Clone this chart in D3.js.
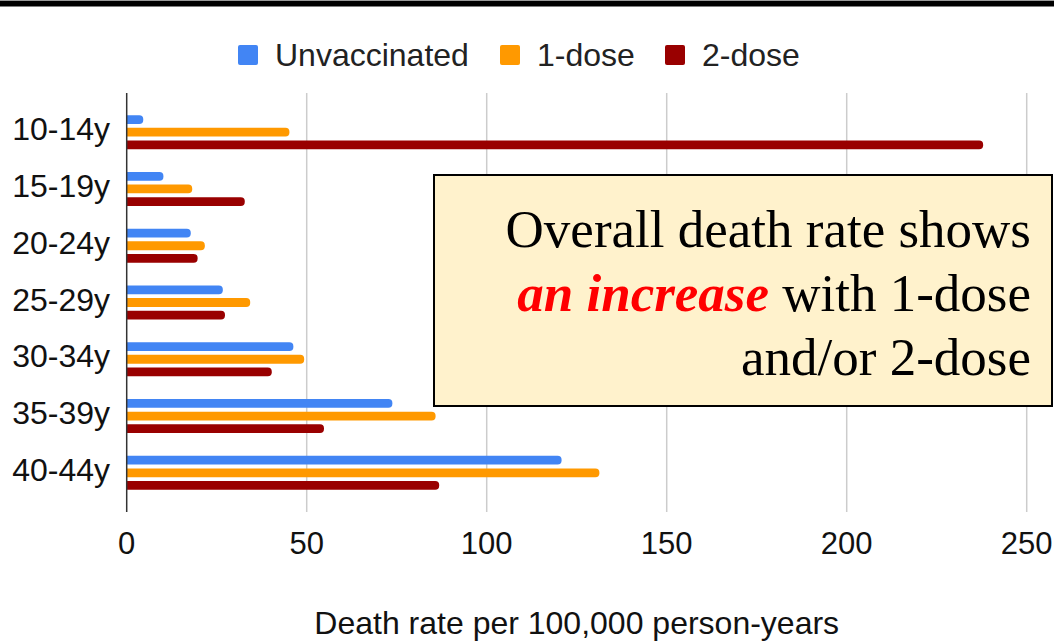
<!DOCTYPE html>
<html>
<head>
<meta charset="utf-8">
<script src="https://cdn.jsdelivr.net/npm/d3@7"></script>
<style>
    body { margin: 0; background: #fff; }
    svg { display: block; }
</style>
</head>
<body>
<svg id="board" width="1054" height="644"></svg>
<script>
// Age groups shown on the vertical axis
let ageGroups = ['10-14y', '15-19y', '20-24y', '25-29y', '30-34y', '35-39y', '40-44y']

// Series names and their colours
let seriesNames = ['Unvaccinated', '1-dose', '2-dose']
let seriesColors = ['#4285f4', '#ff9900', '#990000']

// Death rate per 100,000 person-years
let unvaccinated = [4.6, 10.2, 17.8, 26.7, 46.3, 73.8, 120.8]
let oneDose = [45.2, 18.2, 21.7, 34.3, 49.3, 85.8, 131.3]
let twoDose = [237.9, 32.8, 19.7, 27.3, 40.3, 54.8, 86.8]

// Tick values for the bottom axis
let xTicks = [0, 50, 100, 150, 200, 250]

let board = d3.select('#board')
let sansFont = '"Liberation Sans", Arial, sans-serif'

// Plot area
let plotLeft = 126.7
let plotRight = 1026.7
let plotTop = 93
let plotBottom = 512

let xScale = d3.scaleLinear().domain([0, 250]).range([plotLeft, plotRight])

let yScale = d3.scaleBand()
    .domain(ageGroups)
    .range([plotTop, plotBottom])
    .paddingInner(0.4)
    .paddingOuter(0.39)

let innerScale = d3.scaleBand()
    .domain(seriesNames)
    .range([0, yScale.bandwidth()])
    .paddingInner(0.3)

let seriesValues = [unvaccinated, oneDose, twoDose]

// Build the rows that the bars are drawn from
let rows = []
ageGroups.forEach((group, i) => {
    seriesNames.forEach((name, s) => {
        rows.push({ group: group, series: name, color: seriesColors[s], value: seriesValues[s][i] })
    })
})

// Top black band
board.append('rect')
    .attr('x', 0).attr('y', 0).attr('width', 1054).attr('height', 1)
    .attr('fill', '#999')
board.append('rect')
    .attr('x', 0).attr('y', 1).attr('width', 1054).attr('height', 5.5)
    .attr('fill', '#000')

// Vertical gridlines
board.selectAll('.grid')
    .data(xTicks.filter((t) => t > 0))
    .enter()
    .append('line')
    .attr('class', 'grid')
    .attr('x1', (t) => xScale(t))
    .attr('x2', (t) => xScale(t))
    .attr('y1', plotTop)
    .attr('y2', plotBottom)
    .attr('stroke', '#cccccc')
    .attr('stroke-width', 1.5)

// Bars with a rounded right end
let barPath = (x0, y, w, h) => {
    let r = Math.min(4, h / 2, w)
    return 'M' + x0 + ',' + y +
        'H' + (x0 + w - r) +
        'A' + r + ',' + r + ' 0 0 1 ' + (x0 + w) + ',' + (y + r) +
        'V' + (y + h - r) +
        'A' + r + ',' + r + ' 0 0 1 ' + (x0 + w - r) + ',' + (y + h) +
        'H' + x0 + 'Z'
}

board.selectAll('.bar')
    .data(rows)
    .enter()
    .append('path')
    .attr('class', 'bar')
    .attr('fill', (d) => d.color)
    .attr('d', (d) => {
        let y = yScale(d.group) + innerScale(d.series)
        return barPath(xScale(0), y, xScale(d.value) - xScale(0), innerScale.bandwidth())
    })

// Vertical axis line
board.append('line')
    .attr('x1', xScale(0)).attr('x2', xScale(0))
    .attr('y1', plotTop).attr('y2', plotBottom)
    .attr('stroke', '#333')
    .attr('stroke-width', 1.5)

// Age group labels
board.selectAll('.ylabel')
    .data(ageGroups)
    .enter()
    .append('text')
    .attr('class', 'ylabel')
    .attr('x', 110)
    .attr('y', (g) => yScale(g) + yScale.bandwidth() / 2 + 8)
    .attr('text-anchor', 'end')
    .attr('font-family', sansFont)
    .attr('font-size', 32)
    .attr('fill', '#111')
    .text((g) => g)

// Bottom tick labels
board.selectAll('.xlabel')
    .data(xTicks)
    .enter()
    .append('text')
    .attr('class', 'xlabel')
    .attr('x', (t) => xScale(t))
    .attr('y', 554)
    .attr('text-anchor', 'middle')
    .attr('font-family', sansFont)
    .attr('font-size', 31)
    .attr('fill', '#111')
    .text((t) => t)

// Axis title
board.append('text')
    .attr('x', (plotLeft + plotRight) / 2)
    .attr('y', 634)
    .attr('text-anchor', 'middle')
    .attr('font-family', sansFont)
    .attr('font-size', 32)
    .attr('fill', '#111')
    .text('Death rate per 100,000 person-years')

// Legend
let legendX = [238, 500, 665]
let legend = board.selectAll('.legend')
    .data(seriesNames)
    .enter()
    .append('g')
    .attr('class', 'legend')
    .attr('transform', (d, i) => 'translate(' + legendX[i] + ', 45)')

legend.append('rect')
    .attr('width', 20)
    .attr('height', 20)
    .attr('rx', 2)
    .attr('fill', (d, i) => seriesColors[i])

legend.append('text')
    .attr('x', 37)
    .attr('y', 21)
    .attr('font-family', sansFont)
    .attr('font-size', 32)
    .attr('fill', '#222')
    .text((d) => d)

// Annotation box
board.append('rect')
    .attr('x', 434)
    .attr('y', 175)
    .attr('width', 618)
    .attr('height', 231)
    .attr('fill', '#fff2cc')
    .attr('stroke', '#000')
    .attr('stroke-width', 2)

let note = board.append('text')
    .attr('text-anchor', 'end')
    .attr('font-family', '"Liberation Serif", "Times New Roman", serif')
    .attr('font-size', 53)
    .attr('fill', '#000')

note.append('tspan').attr('x', 1031).attr('y', 247).text('Overall death rate shows')
let line2 = note.append('tspan').attr('x', 1031).attr('y', 311)
line2.append('tspan')
    .attr('fill', '#ff0000')
    .attr('font-weight', 'bold')
    .attr('font-style', 'italic')
    .text('an increase')
line2.append('tspan').text(' with 1-dose')
note.append('tspan').attr('x', 1031).attr('y', 375).text('and/or 2-dose')
</script>
</body>
</html>
